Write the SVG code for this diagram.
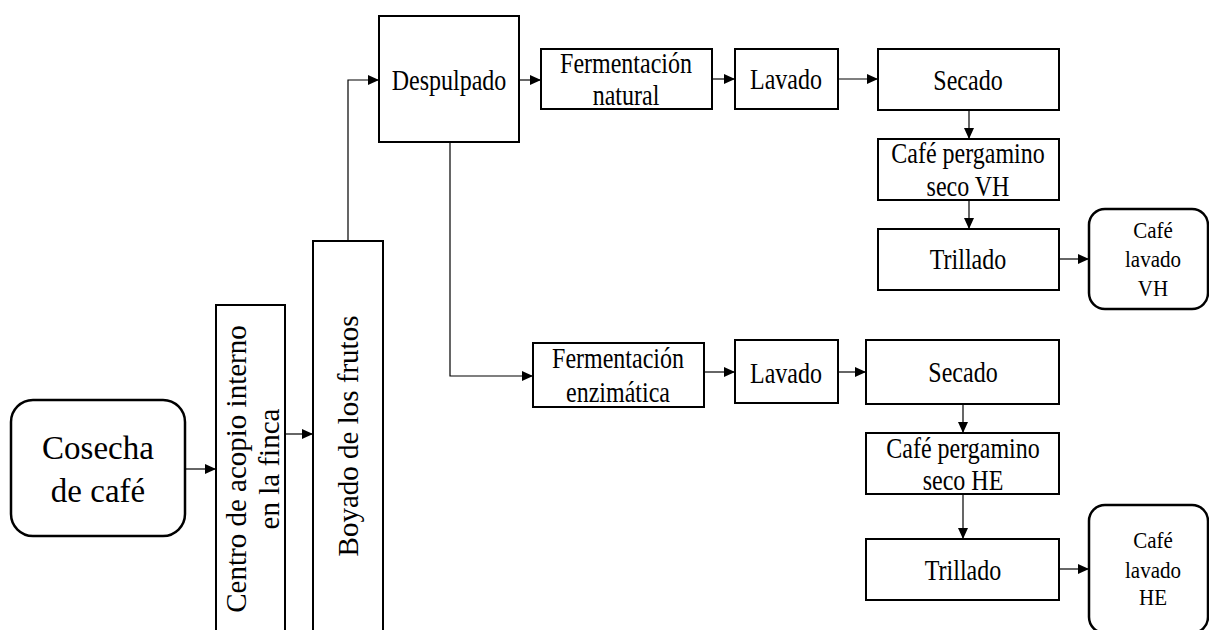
<svg xmlns="http://www.w3.org/2000/svg" width="1209" height="630" viewBox="0 0 1209 630">
  <defs>
    <marker id="arrow" markerUnits="userSpaceOnUse" markerWidth="11" markerHeight="10" refX="11" refY="5" orient="auto">
      <path d="M0,0 L11,5 L0,10 z" fill="#000"/>
    </marker>
    <style>
      .box { fill: #fff; stroke: #000; stroke-width: 2; }
      .term { fill: #fff; stroke: #000; stroke-width: 2.5; }
      .conn { fill: none; stroke: #000; stroke-width: 1.2; marker-end: url(#arrow); }
      .lbl { fill: #000; text-anchor: middle; }
      .t24 { font-size: 24px; }
      .t21 { font-size: 21px; }
      .t29 { font-size: 29px; }
      .t33 { font-size: 33px; }
    </style>
  </defs>
  <rect width="1209" height="630" fill="#fff"/>

  <!-- connectors -->
  <g id="connectors">
    <path class="conn" d="M185,469 H216"/>
    <path class="conn" d="M285,434 H313"/>
    <path class="conn" d="M348,241 V80 H379"/>
    <path class="conn" d="M519,80 H541"/>
    <path class="conn" d="M712,79 H735"/>
    <path class="conn" d="M838,79 H878"/>
    <path class="conn" d="M969,110 V139"/>
    <path class="conn" d="M969,200 V229"/>
    <path class="conn" d="M1059,259 H1089"/>
    <path class="conn" d="M450,142 V376 H533"/>
    <path class="conn" d="M704,372 H735"/>
    <path class="conn" d="M838,372 H866"/>
    <path class="conn" d="M963,404 V433"/>
    <path class="conn" d="M963,494 V539"/>
    <path class="conn" d="M1059,569 H1089"/>
  </g>

  <!-- labels use a slightly tall serif: each text is placed at its baseline and stretched vertically -->
  <g font-family="Liberation Serif, serif">
  <g id="cosecha">
    <rect class="term" x="11" y="400" width="174" height="136" rx="22"/>
    <text class="lbl t33" transform="translate(98,459) scale(1,1.05)">Cosecha</text>
    <text class="lbl t33" transform="translate(98,502) scale(1,1.05)">de café</text>
  </g>

  <g id="centro-acopio">
    <rect class="box" x="216" y="305" width="69" height="340"/>
    <text class="lbl t29" transform="translate(246,469) rotate(-90)">Centro de acopio interno</text>
    <text class="lbl t29" transform="translate(279,469) rotate(-90)">en la finca</text>
  </g>

  <g id="boyado">
    <rect class="box" x="313" y="241" width="70" height="404"/>
    <text class="lbl t29" transform="translate(358,436) rotate(-90)">Boyado de los frutos</text>
  </g>

  <g id="despulpado">
    <rect class="box" x="379" y="16" width="140" height="126"/>
    <text class="lbl t24" transform="translate(449,90) scale(1,1.2)">Despulpado</text>
  </g>

  <!-- natural fermentation branch -->
  <g id="fermentacion-natural">
    <rect class="box" x="541" y="49" width="171" height="60"/>
    <text class="lbl t24" transform="translate(626,73) scale(1,1.2)">Fermentación</text>
    <text class="lbl t24" transform="translate(626,105) scale(1,1.2)">natural</text>
  </g>

  <g id="lavado-vh">
    <rect class="box" x="735" y="49" width="103" height="60"/>
    <text class="lbl t24" transform="translate(786,89) scale(1,1.2)">Lavado</text>
  </g>

  <g id="secado-vh">
    <rect class="box" x="878" y="49" width="181" height="61"/>
    <text class="lbl t24" transform="translate(968,90) scale(1,1.2)">Secado</text>
  </g>

  <g id="pergamino-vh">
    <rect class="box" x="878" y="139" width="181" height="61"/>
    <text class="lbl t24" transform="translate(968,163) scale(1,1.2)">Café pergamino</text>
    <text class="lbl t24" transform="translate(968,196) scale(1,1.2)">seco VH</text>
  </g>

  <g id="trillado-vh">
    <rect class="box" x="878" y="229" width="181" height="61"/>
    <text class="lbl t24" transform="translate(968,269) scale(1,1.2)">Trillado</text>
  </g>

  <g id="cafe-lavado-vh">
    <rect class="term" x="1089" y="209" width="119" height="100" rx="16"/>
    <text class="lbl t21" transform="translate(1153,238) scale(1,1.08)">Café</text>
    <text class="lbl t21" transform="translate(1153,267) scale(1,1.08)">lavado</text>
    <text class="lbl t21" transform="translate(1153,296) scale(1,1.08)">VH</text>
  </g>

  <!-- enzymatic fermentation branch -->
  <g id="fermentacion-enzimatica">
    <rect class="box" x="533" y="343" width="171" height="64"/>
    <text class="lbl t24" transform="translate(618,368) scale(1,1.2)">Fermentación</text>
    <text class="lbl t24" transform="translate(618,402) scale(1,1.2)">enzimática</text>
  </g>

  <g id="lavado-he">
    <rect class="box" x="735" y="340" width="103" height="63"/>
    <text class="lbl t24" transform="translate(786,383) scale(1,1.2)">Lavado</text>
  </g>

  <g id="secado-he">
    <rect class="box" x="866" y="340" width="193" height="64"/>
    <text class="lbl t24" transform="translate(963,382) scale(1,1.2)">Secado</text>
  </g>

  <g id="pergamino-he">
    <rect class="box" x="866" y="433" width="193" height="61"/>
    <text class="lbl t24" transform="translate(963,458) scale(1,1.2)">Café pergamino</text>
    <text class="lbl t24" transform="translate(963,490) scale(1,1.2)">seco HE</text>
  </g>

  <g id="trillado-he">
    <rect class="box" x="866" y="539" width="193" height="61"/>
    <text class="lbl t24" transform="translate(963,580) scale(1,1.2)">Trillado</text>
  </g>

  <g id="cafe-lavado-he">
    <rect class="term" x="1089" y="505" width="119" height="128" rx="16"/>
    <text class="lbl t21" transform="translate(1153,548) scale(1,1.08)">Café</text>
    <text class="lbl t21" transform="translate(1153,578) scale(1,1.08)">lavado</text>
    <text class="lbl t21" transform="translate(1153,605) scale(1,1.08)">HE</text>
  </g>
  </g>
</svg>
